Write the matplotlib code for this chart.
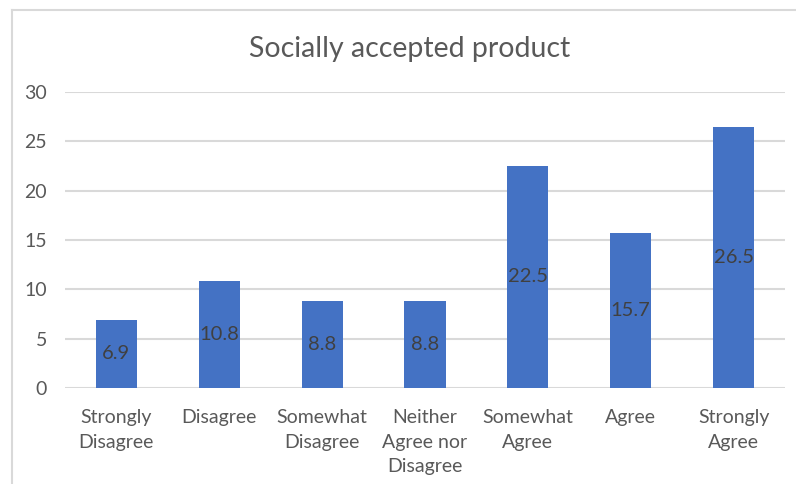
import numpy as np
import matplotlib.pyplot as plt
from matplotlib.lines import Line2D

plt.rcParams['font.family'] = ['Lato', 'DejaVu Sans']

categories = ['Strongly\nDisagree', 'Disagree', 'Somewhat\nDisagree',
              'Neither\nAgree nor\nDisagree', 'Somewhat\nAgree', 'Agree',
              'Strongly\nAgree']
values = [6.9, 10.8, 8.8, 8.8, 22.5, 15.7, 26.5]

grid_col = '#d9d9d9'
text_col = '#595959'
bar_col = '#4472c4'

fig = plt.figure(figsize=(7.96, 4.84), dpi=100)
ax = fig.add_axes([65/796, 96/484, 720/796, 296/484])

x = np.arange(len(categories))
ax.bar(x, values, width=0.4, color=bar_col, zorder=3)
# value labels sit in the middle of each bar
for xi, v in zip(x, values):
    ax.text(xi, v / 2, f'{v}', ha='center', va='center',
            fontsize=14.5, color='#404040', zorder=4)

ax.set_xlim(-0.5, len(categories) - 0.5)
ax.set_ylim(0, 30)
ax.set_yticks(range(0, 31, 5))
ax.yaxis.grid(True, color=grid_col, linewidth=1.5, zorder=0)
ax.set_xticks(x)
ax.set_xticklabels(categories, linespacing=1.55)
ax.tick_params(axis='both', length=0, labelsize=14, labelcolor=text_col)
ax.tick_params(axis='x', pad=15)
ax.tick_params(axis='y', pad=13)
for s in ax.spines.values():
    s.set_visible(False)

fig.text(410/796, 1 - 49/484, 'Socially accepted product', ha='center',
         va='center', fontsize=20.5, color=text_col)

# chart area border (top and left edges)
fig.add_artist(Line2D([12/796, 1], [1 - 10/484] * 2, color=grid_col,
                      linewidth=1.5, transform=fig.transFigure))
fig.add_artist(Line2D([12/796] * 2, [0, 1 - 10/484], color=grid_col,
                      linewidth=1.5, transform=fig.transFigure))

fig.savefig('out.png', dpi=100)
